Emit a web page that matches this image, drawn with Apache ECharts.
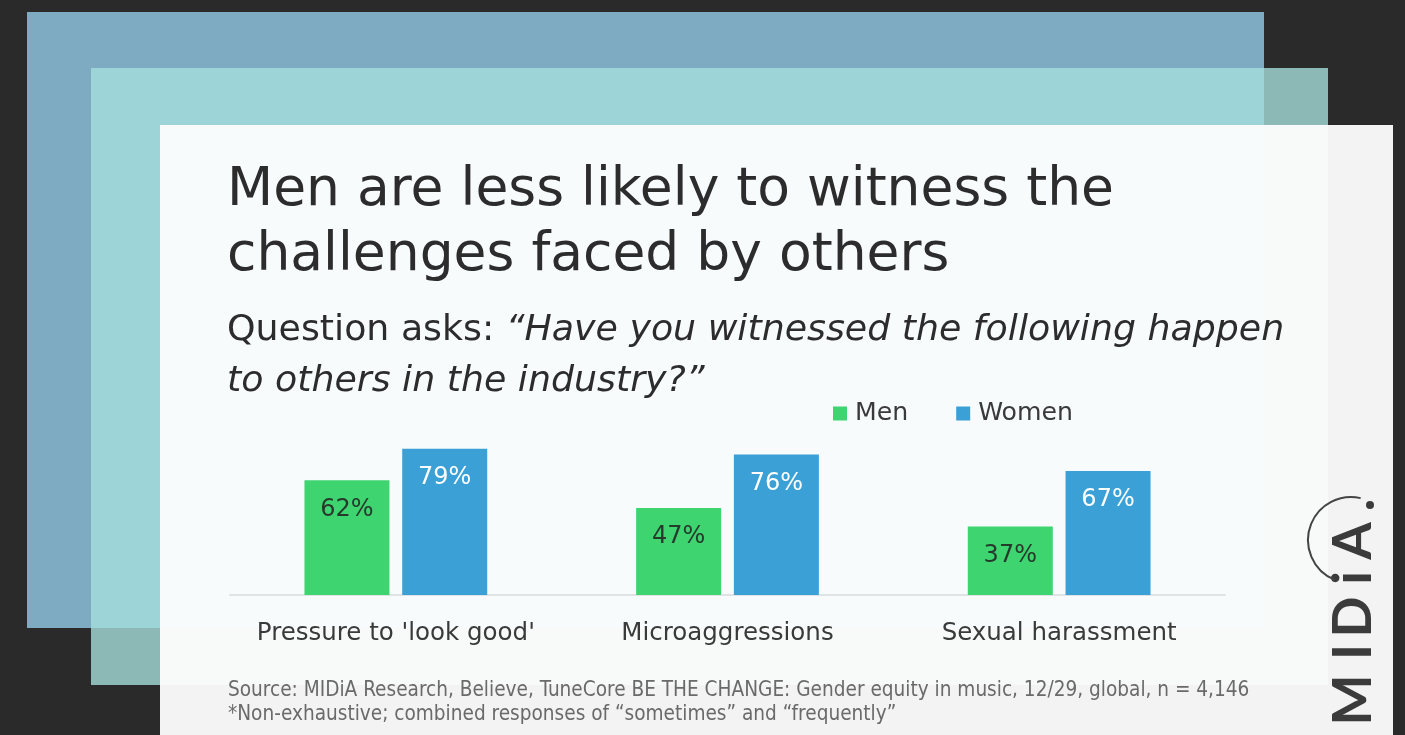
<!DOCTYPE html>
<html>
<head>
<meta charset="utf-8">
<script src="https://cdn.jsdelivr.net/npm/echarts@6/dist/echarts.min.js"></script>
<style>
html,body{margin:0;padding:0;background:#2a2a2a;}
#chart{width:1405px;height:735px;}
</style>
</head>
<body>
<div id="chart"></div>
<script>
const categories = ["Pressure to 'look good'", "Microaggressions", "Sexual harassment"];
const seriesNames = ["Men", "Women"];
const menValues = [62, 47, 37];
const womenValues = [79, 76, 67];
const titleText = "Men are less likely to witness the\nchallenges faced by others";
const questionLead = "Question asks: ";
const questionLine1 = "\u201cHave you witnessed the following happen";
const questionLine2 = "to others in the industry?\u201d";
const sourceLines = [
  "Source: MIDiA Research, Believe, TuneCore BE THE CHANGE: Gender equity in music, 12/29, global, n = 4,146",
  "*Non-exhaustive; combined responses of \u201csometimes\u201d and \u201cfrequently\u201d"
];
const logoLetters = ["M", "I", "D", "i", "A"];

const FONT = '"DejaVu Sans", "Open Sans", sans-serif';
const chart = echarts.init(document.getElementById('chart'), null, {renderer: 'canvas'});

function rect(x, y, w, h, color) {
  return {type: 'rect', shape: {x, y, width: w, height: h}, style: {fill: color}, z: 0, silent: true};
}

const logoY = [700, 652, 617, 578, 541];
const logoEls = logoLetters.map((ch, i) => ({
  type: 'text', x: 1354, y: logoY[i], rotation: Math.PI / 2, z: 0,
  style: {text: ch, fill: '#3b3b3b', font: 'bold 54px Lato, sans-serif', textAlign: 'center', textVerticalAlign: 'middle'}
}));

const option = {
  backgroundColor: '#2a2a2a',
  animation: false,
  graphic: [
    rect(27, 12, 1237, 616, '#7eaac2'),
    rect(91, 68, 1237, 617, '#8cb9b6'),
    rect(91, 68, 1173, 560, '#9dd4d7'),
    rect(160, 125, 1233, 610, '#f3f3f3'),
    rect(160, 125, 1168, 560, '#f8f9f9'),
    rect(160, 125, 1104, 503, '#f7fbfc'),
    ...logoEls,
    {type: 'arc', z: 0, silent: true,
     shape: {cx: 1351, cy: 540, r: 43, startAngle: 112 * Math.PI / 180, endAngle: 283 * Math.PI / 180, clockwise: true},
     style: {stroke: '#444', lineWidth: 2, fill: null}},
    {type: 'circle', z: 0, silent: true, shape: {cx: 1370, cy: 505, r: 4}, style: {fill: '#3b3b3b'}}
  ],
  title: [
    {text: titleText, left: 227, top: 159, padding: 0,
     textStyle: {fontFamily: FONT, fontSize: 53.5, fontWeight: 'normal', color: '#2c2c2c', lineHeight: 65}},
    {text: '{n|' + questionLead + '}{i|' + questionLine1 + '}\n{i|' + questionLine2 + '}', left: 227, top: 305, padding: 0,
     textStyle: {fontWeight: 'normal', rich: {
       n: {fontFamily: FONT, fontSize: 36.3, fontWeight: 'normal', color: '#2c2c2c', lineHeight: 51},
       i: {fontFamily: FONT, fontSize: 36.3, fontWeight: 'normal', fontStyle: 'italic', color: '#2c2c2c', lineHeight: 51}
     }}},
    {text: sourceLines.join('\n'), left: 228, top: 679, padding: 0,
     textStyle: {fontFamily: '"DejaVu Sans Condensed", sans-serif', fontSize: 20.6, fontWeight: 'normal', color: '#6a6a6a', lineHeight: 24}}
  ],
  legend: {
    data: seriesNames, left: 833, top: 401, padding: 0, icon: 'rect', itemWidth: 14, itemHeight: 14, itemGap: 48,
    textStyle: {fontFamily: FONT, fontSize: 25.2, color: '#3a3a3a', padding: [0, 0, 0, 3]}
  },
  grid: {left: 230, right: 180, top: 410, bottom: 140, containLabel: false},
  xAxis: {
    type: 'category', data: categories,
    axisLine: {lineStyle: {color: '#dfe3e5', width: 2}},
    axisTick: {show: false},
    axisLabel: {interval: 0, fontFamily: FONT, fontSize: 24.5, color: '#3a3a3a', margin: 26}
  },
  yAxis: {type: 'value', min: 0, max: 100, show: false, splitLine: {show: false}},
  series: [
    {name: seriesNames[0], type: 'bar', data: menValues, barWidth: 85, barGap: '15%', z: 5,
     itemStyle: {color: '#3ed470'},
     label: {show: true, position: 'insideTop', distance: 17, formatter: '{c}%', fontFamily: FONT, fontSize: 24, color: '#263a2c'}},
    {name: seriesNames[1], type: 'bar', data: womenValues, barWidth: 85, z: 5,
     itemStyle: {color: '#3ba0d6'},
     label: {show: true, position: 'insideTop', distance: 17, formatter: '{c}%', fontFamily: FONT, fontSize: 24, color: '#ffffff'}}
  ]
};
chart.setOption(option);
</script>
</body>
</html>
